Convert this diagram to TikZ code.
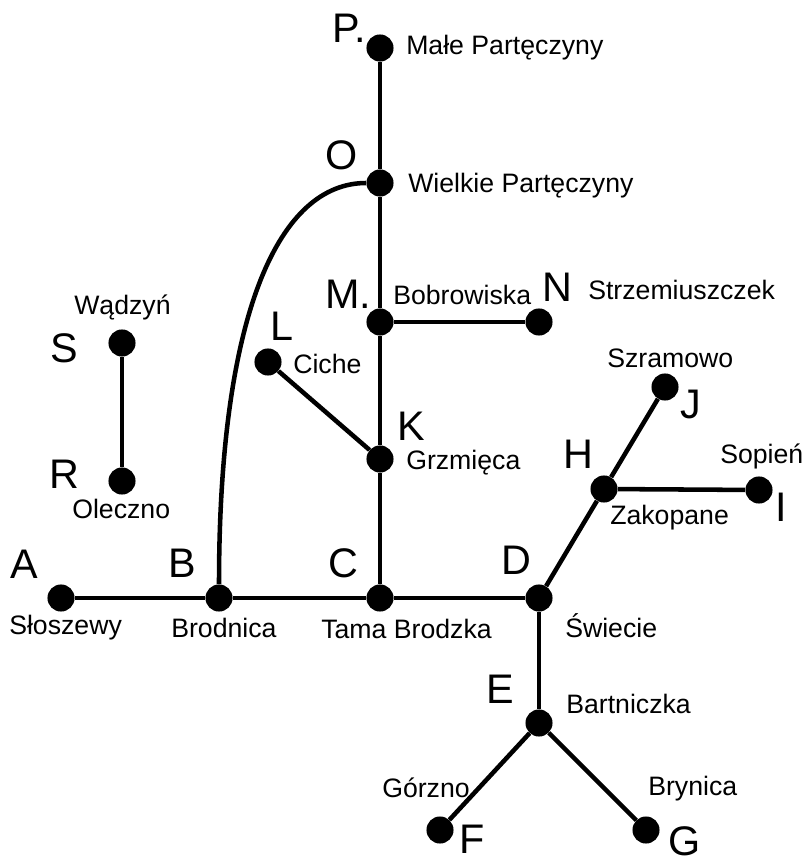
\documentclass[tikz,border=0pt]{standalone}
\usepackage{fontspec}
\setmainfont{Liberation Sans}
\begin{document}
\begin{tikzpicture}[x=0.75pt,y=-0.75pt,
  dot/.style={circle,fill=black,inner sep=0pt,minimum size=20.3pt},
  conn/.style={line width=3.4pt,black},
  letter/.style={anchor=base west,inner sep=0pt,font=\fontsize{31}{31}\selectfont},
  place/.style={anchor=base west,inner sep=0pt,font=\fontsize{20}{20}\selectfont}]
\useasboundingbox (0,0) rectangle (802,862);
% dots
\node[dot] (P) at (380,48) {};
\node[dot] (O) at (380,183) {};
\node[dot] (M) at (380,322) {};
\node[dot] (N) at (539,322) {};
\node[dot] (L) at (268,362) {};
\node[dot] (K) at (380,459) {};
\node[dot] (J) at (665,387) {};
\node[dot] (H) at (604,489) {};
\node[dot] (I) at (759,490) {};
\node[dot] (S) at (122,343) {};
\node[dot] (R) at (122,481) {};
\node[dot] (A) at (61,598) {};
\node[dot] (B) at (219,598) {};
\node[dot] (C) at (380,598) {};
\node[dot] (D) at (539,598) {};
\node[dot] (E) at (539,723) {};
\node[dot] (F) at (440,830) {};
\node[dot] (G) at (646,830) {};
% connectors
\draw[conn] (P) -- (O);
\draw[conn] (O) -- (M);
\draw[conn] (M) -- (K);
\draw[conn] (M) -- (N);
\draw[conn] (L) -- (K);
\draw[conn] (K) -- (C);
\draw[conn] (A) -- (B);
\draw[conn] (B) -- (C);
\draw[conn] (C) -- (D);
\draw[conn] (D) -- (H);
\draw[conn] (H) -- (J);
\draw[conn] (H) -- (I);
\draw[conn] (D) -- (E);
\draw[conn] (E) -- (F);
\draw[conn] (E) -- (G);
\draw[conn] (S) -- (R);
\draw[conn] (O.west) .. controls (280,183) and (219,310) .. (B.north);
% letters
\node[letter] (tP) at (332,43) {P.};
\node[letter] (tO) at (325,170) {O};
\node[letter] (tM) at (325,309) {M.};
\node[letter] (tN) at (542,302) {N};
\node[letter] (tL) at (270,340) {L};
\node[letter] (tK) at (397,440) {K};
\node[letter] (tH) at (563,468) {H};
\node[letter] (tJ) at (680,418) {J};
\node[letter] (tI) at (775,521) {I};
\node[letter] (tS) at (50,362) {S};
\node[letter] (tR) at (49,488) {R};
\node[letter] (tA) at (10,578) {A};
\node[letter] (tB) at (168,577) {B};
\node[letter] (tC) at (328,577) {C};
\node[letter] (tD) at (501,574) {D};
\node[letter] (tE) at (486,703) {E};
\node[letter] (tF) at (459,853) {F};
\node[letter] (tG) at (668,855) {G};
% place names
\node[place] (nP) at (406,55) {Małe Partęczyny};
\node[place] (nO) at (408,193) {Wielkie Partęczyny};
\node[place] (nM) at (393,305) {Bobrowiska};
\node[place] (nN) at (588,300) {Strzemiuszczek};
\node[place] (nL) at (293,373) {Ciche};
\node[place] (nK) at (406,469) {Grzmięca};
\node[place] (nJ) at (607,367) {Szramowo};
\node[place] (nI) at (720,463) {Sopień};
\node[place] (nH) at (610,524) {Zakopane};
\node[place] (nS) at (74,315) {Wądzyń};
\node[place] (nR) at (72,518) {Oleczno};
\node[place] (nA) at (9,634) {Słoszewy};
\node[place] (nB) at (171,637) {Brodnica};
\node[place] (nC) at (321,638) {Tama Brodzka};
\node[place] (nD) at (565,637) {Świecie};
\node[place] (nE) at (566,713) {Bartniczka};
\node[place] (nF) at (382,797) {Górzno};
\node[place] (nG) at (648,795) {Brynica};
\end{tikzpicture}
\end{document}
